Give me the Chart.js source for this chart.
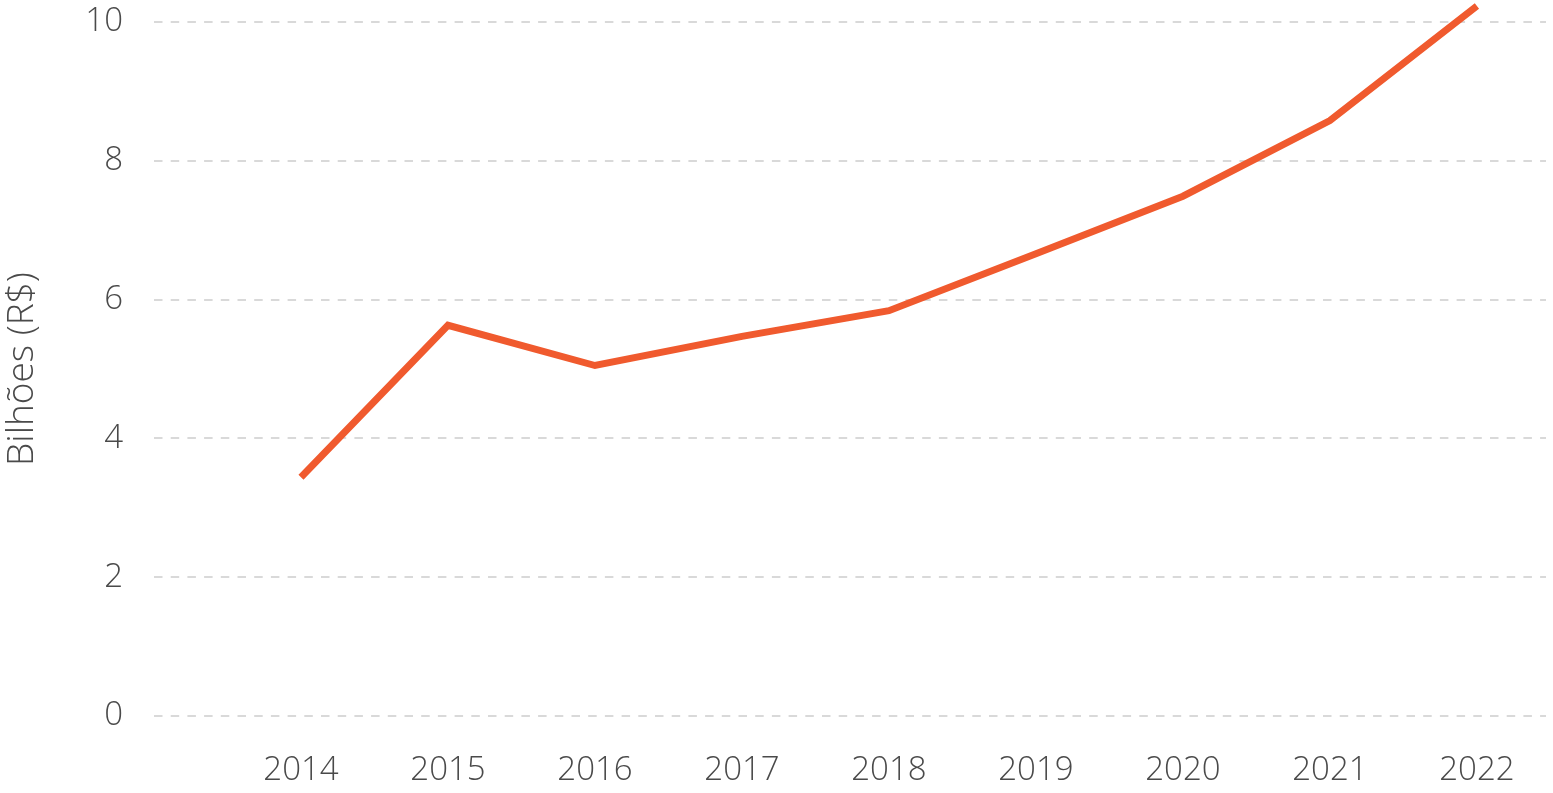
<!DOCTYPE html>
<html>
<head>
<meta charset="utf-8">
<script src="https://cdn.jsdelivr.net/npm/chart.js@4"></script>
<style>
  html, body { margin: 0; padding: 0; background: #ffffff; }
  #wrap { width: 1553px; height: 793px; position: relative; }
</style>
</head>
<body>
<div id="wrap"><canvas id="c"></canvas></div>
<script>
const years = [2014, 2015, 2016, 2017, 2018, 2019, 2020, 2021, 2022];
const values = [3.44, 5.63, 5.05, 5.47, 5.84, 6.66, 7.49, 8.58, 10.23];
const yTicks = [0, 2, 4, 6, 8, 10];
const yTitle = 'Bilhões (R$)';

const FONT = '"Open Sans", "DejaVu Sans", sans-serif';
const TXT = '#4a4a4a';

new Chart(document.getElementById('c'), {
  type: 'line',
  data: {
    datasets: [{
      data: years.map((y, i) => ({ x: y, y: values[i] })),
      borderColor: '#f05a2e',
      borderWidth: 7,
      pointRadius: 0,
      pointHoverRadius: 0,
      tension: 0,
      fill: false,
      clip: false,
      borderJoinStyle: 'miter',
      borderCapStyle: 'butt'
    }]
  },
  options: {
    responsive: true,
    maintainAspectRatio: false,
    animation: false,
    layout: { padding: { left: 0, top: 22, right: 7, bottom: 0 } },
    plugins: { legend: { display: false }, tooltip: { enabled: false } },
    scales: {
      x: {
        type: 'linear',
        min: years[0] - 1,
        max: years[years.length - 1] + 0.47,
        afterBuildTicks: (s) => { s.ticks = years.map(v => ({ value: v })); },
        afterFit: (s) => { s.height = 77; s.paddingLeft = 0; s.paddingRight = 0; },
        grid: { display: false, drawTicks: false },
        border: { display: false },
        ticks: {
          padding: 35,
          color: TXT,
          font: { family: FONT, size: 33, weight: 300 },
          maxRotation: 0,
          autoSkip: false,
          callback: (v) => String(v)
        }
      },
      y: {
        min: 0,
        max: 10,
        afterBuildTicks: (s) => { s.ticks = yTicks.map(v => ({ value: v })); },
        afterFit: (s) => { s.width = 154; s.paddingTop = 0; s.paddingBottom = 0; },
        grid: {
          color: '#d9d9d9',
          lineWidth: 2,
          drawTicks: false
        },
        border: { display: false, dash: [8.5, 8.2] },
        ticks: {
          padding: 31,
          color: TXT,
          font: { family: FONT, size: 33, weight: 300 },
          callback: (v) => String(v)
        },
        title: {
          display: true,
          text: yTitle,
          color: TXT,
          font: { family: FONT, size: 37, weight: 300 },
          padding: { top: 0, bottom: 0 }
        }
      }
    }
  }
});
</script>
</body>
</html>
